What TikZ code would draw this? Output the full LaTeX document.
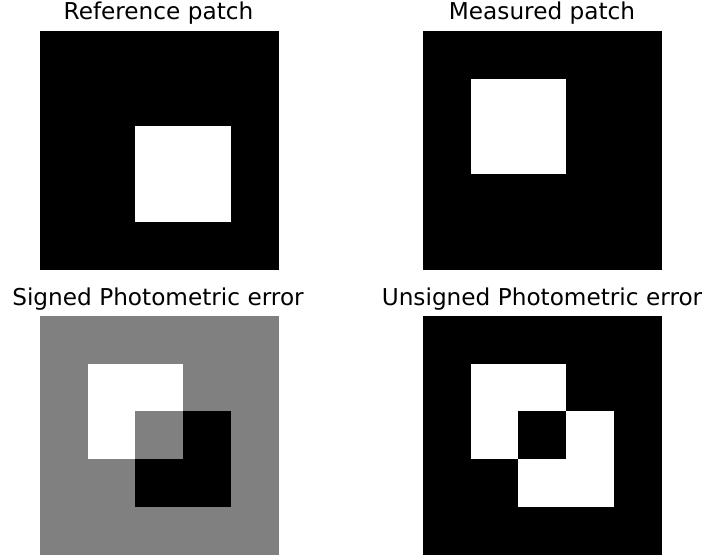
\documentclass[tikz,border=0pt]{standalone}
\usepackage{fontspec}
\setmainfont{DejaVu Sans}
\begin{document}
\begin{tikzpicture}[x={(0.75pt,0pt)}, y={(0pt,-0.75pt)},
    titolo/.style={anchor=base, font=\fontsize{17.4}{20}\selectfont},
    griglia/.style={x={(35.775pt,0pt)}, y={(0pt,-35.775pt)}}]
    \useasboundingbox (0,0) rectangle (709,558);

    % Titoli
    \node[titolo] (tRef) at (158.5,19) {Reference patch};
    \node[titolo] (tMis) at (542,19) {Measured patch};
    \node[titolo] (tSig) at (158,305.5) {Signed Photometric error};
    \node[titolo] (tUns) at (542,305.5) {Unsigned Photometric error};

    % Reference patch
    \begin{scope}[shift={(40,31)}, griglia]
        \fill[black] (0,0) rectangle (5,5);
        \fill[white] (2,2) rectangle (4,4);
    \end{scope}

    % Measured patch
    \begin{scope}[shift={(423,31)}, griglia]
        \fill[black] (0,0) rectangle (5,5);
        \fill[white] (1,1) rectangle (3,3);
    \end{scope}

    % Errore con segno
    \begin{scope}[shift={(40,316)}, griglia]
        \fill[gray] (0,0) rectangle (5,5);
        \fill[white] (1,1) rectangle (3,3);
        \fill[black] (2,2) rectangle (4,4);
        \fill[gray] (2,2) rectangle (3,3);
    \end{scope}

    % Errore senza segno
    \begin{scope}[shift={(423,316)}, griglia]
        \fill[black] (0,0) rectangle (5,5);
        \fill[white] (1,1) rectangle (3,3);
        \fill[white] (2,2) rectangle (4,4);
        \fill[black] (2,2) rectangle (3,3);
    \end{scope}
\end{tikzpicture}
\end{document}
